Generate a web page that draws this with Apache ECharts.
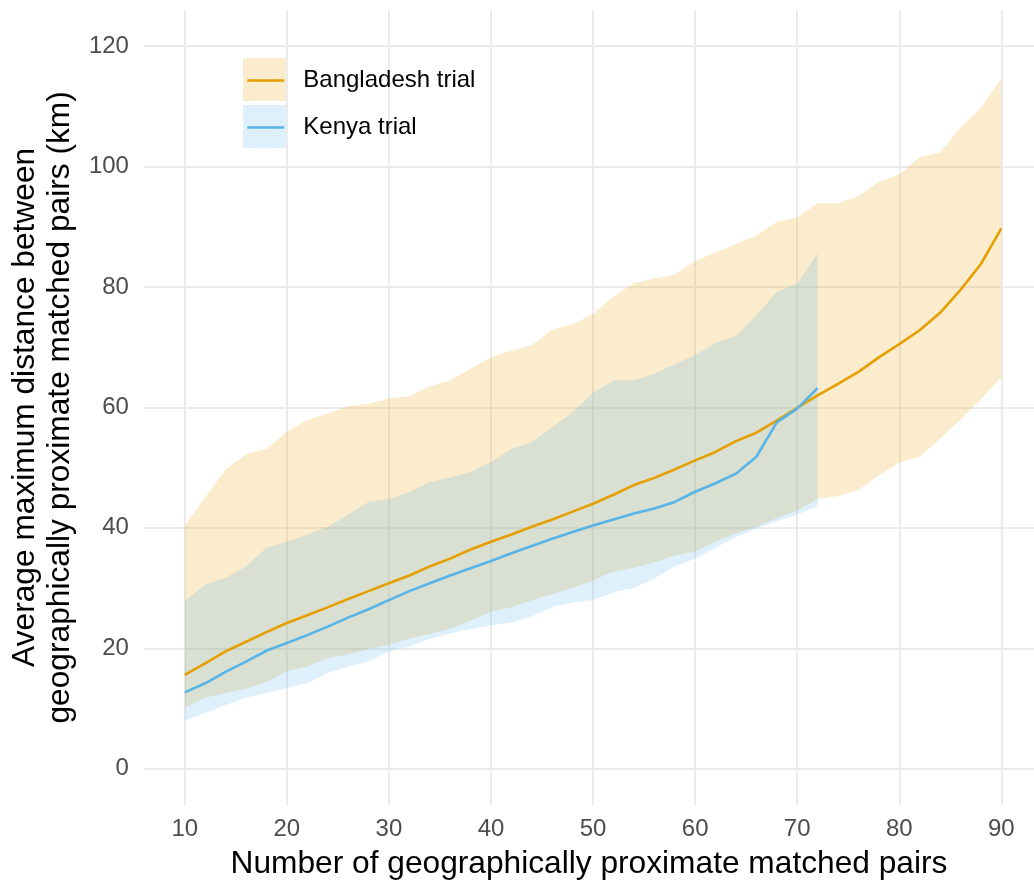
<!DOCTYPE html>
<html>
<head>
<meta charset="utf-8">
<script src="https://cdn.jsdelivr.net/npm/echarts@6/dist/echarts.min.js"></script>
<style>
  html, body { margin: 0; padding: 0; background: #fff; }
  #chart { width: 1034px; height: 885px; }
</style>
</head>
<body>
<div id="chart"></div>
<script>
// Number of matched pairs (x) for each trial
const bdPairs = [10,12,14,16,18,20,22,24,26,28,30,32,34,36,38,40,42,44,46,48,50,52,54,56,58,60,62,64,66,68,70,72,74,76,78,80,82,84,86,88,90];
const kePairs = [10,12,14,16,18,20,22,24,26,28,30,32,34,36,38,40,42,44,46,48,50,52,54,56,58,60,62,64,66,68,70,72];

// Bangladesh trial: mean and interval bounds (km)
const bdMean = [15.6,17.5,19.5,21.1,22.7,24.2,25.5,26.8,28.2,29.5,30.8,32.1,33.6,34.9,36.4,37.7,38.9,40.2,41.4,42.7,44.0,45.5,47.1,48.3,49.7,51.2,52.6,54.4,55.8,57.8,59.9,62.0,63.9,65.9,68.3,70.5,72.8,75.7,79.5,83.8,89.7];
const bdLow  = [10.2,11.8,12.6,13.3,14.4,16.2,17.0,18.4,19.0,19.9,20.6,21.6,22.4,23.3,24.6,26.1,26.8,28.0,29.0,30.0,31.3,32.7,33.4,34.3,35.4,36.1,37.7,39.1,40.2,41.6,42.9,44.8,45.3,46.3,48.7,50.8,51.8,54.8,58.0,61.4,65.0];
const bdHigh = [40.4,45.1,49.7,52.2,53.1,55.9,57.9,59.0,60.2,60.6,61.5,61.8,63.5,64.5,66.4,68.3,69.4,70.3,72.9,73.8,75.5,78.4,80.6,81.4,82.0,84.3,85.7,87.1,88.5,90.8,91.5,93.9,93.9,95.1,97.4,98.7,101.5,102.3,106.4,109.7,114.7];

// Kenya trial: mean and interval bounds (km)
const keMean = [12.7,14.2,16.1,17.8,19.6,20.9,22.2,23.6,25.1,26.5,28.0,29.5,30.8,32.1,33.3,34.5,35.8,37.0,38.2,39.3,40.4,41.4,42.4,43.2,44.3,46.0,47.4,49.0,51.8,57.5,59.8,63.2];
const keLow  = [7.9,9.3,10.6,11.8,12.6,13.4,14.2,15.9,17.0,17.8,19.5,20.3,21.6,22.5,23.2,23.8,24.3,25.3,26.9,27.6,28.0,29.3,30.0,31.6,33.6,34.9,36.7,38.5,39.9,41.1,42.2,43.6];
const keHigh = [27.9,30.6,31.7,33.6,36.7,37.7,38.9,40.2,42.2,44.3,44.8,45.9,47.6,48.3,49.3,50.9,53.1,54.2,56.7,59.2,62.4,64.5,64.5,65.6,67.1,68.7,70.7,71.9,75.3,79.2,80.5,85.6];

// Axis tick labels
const xTicks = [10,20,30,40,50,60,70,80,90];
const yTicks = [0,20,40,60,80,100,120];

const ORANGE = '#E69F00';
const BLUE = '#56B4E9';
const ORANGE_FILL = 'rgba(230,159,0,0.2)';
const BLUE_FILL = 'rgba(86,180,233,0.2)';
const FONT = 'Liberation Sans, Arial, Helvetica, sans-serif';
const GRID = '#EBEBEB';
const LINE_W = 2.6;

const pairs = (xs, ys) => xs.map((x, i) => [x, ys[i]]);

// Ribbon between lower and upper bounds, drawn as one polygon in axis coordinates
function ribbon(name, xs, lo, hi, fill) {
  return {
    name: name, type: 'custom', silent: true, z: 1,
    data: xs.map((x, i) => [x, lo[i], hi[i]]),
    encode: { x: 0, y: [1, 2] },
    itemStyle: { color: fill },
    renderItem: function (params, api) {
      if (params.dataIndex !== 0) return null;
      const upper = xs.map((x, i) => api.coord([x, hi[i]]));
      const lower = xs.map((x, i) => api.coord([x, lo[i]])).reverse();
      return {
        type: 'polygon',
        shape: { points: upper.concat(lower) },
        style: { fill: fill, stroke: null }
      };
    }
  };
}

function meanLine(name, xs, ys, color, z) {
  return {
    name: name, type: 'line', data: pairs(xs, ys), symbol: 'none', silent: true,
    lineStyle: { color: color, width: LINE_W }, itemStyle: { color: color }, z: z
  };
}

// One legend block per key, so each key sits in its own 43px square
function bandKey(name, fill, top) {
  return {
    orient: 'vertical', left: 243, top: top, padding: 0, itemWidth: 43, itemHeight: 43,
    icon: 'rect', selectedMode: false, formatter: () => '',
    data: [{ name: name, itemStyle: { color: fill, borderWidth: 0 } }]
  };
}
function lineKey(name, color, top) {
  return {
    orient: 'vertical', left: 246, top: top, padding: 0, itemWidth: 37, itemHeight: 43,
    selectedMode: false,
    lineStyle: { width: LINE_W },
    textStyle: { fontSize: 24, color: '#000', fontFamily: FONT, padding: [0, 0, 0, 14], lineHeight: 43 },
    data: [{ name: name, itemStyle: { opacity: 0 }, lineStyle: { color: color, width: LINE_W } }]
  };
}

const chart = echarts.init(document.getElementById('chart'), null, { renderer: 'canvas' });

chart.setOption({
  animation: false,
  backgroundColor: '#ffffff',
  textStyle: { fontFamily: FONT },
  grid: { left: 142, right: 0, top: 9.75, bottom: 78, containLabel: false },
  xAxis: {
    type: 'value', min: 6, max: 93.2,
    name: 'Number of geographically proximate matched pairs',
    nameLocation: 'middle', nameGap: 43,
    nameTextStyle: { fontSize: 31.7, color: '#000', fontFamily: FONT },
    axisLine: { show: false },
    axisTick: { show: false, customValues: xTicks },
    axisLabel: { customValues: xTicks, color: '#4D4D4D', fontSize: 24, margin: 12, fontFamily: FONT },
    splitLine: { show: true, lineStyle: { color: GRID, width: 2 } }
  },
  yAxis: {
    type: 'value', min: -6, max: 126,
    name: 'Average maximum distance between\ngeographically proximate matched pairs (km)',
    nameLocation: 'middle', nameGap: 60,
    nameTextStyle: { fontSize: 31.7, color: '#000', lineHeight: 35, fontFamily: FONT },
    axisLine: { show: false },
    axisTick: { show: false, customValues: yTicks },
    axisLabel: { customValues: yTicks, color: '#4D4D4D', fontSize: 24, margin: 15, fontFamily: FONT },
    splitLine: { show: true, lineStyle: { color: GRID, width: 2 } }
  },
  legend: [
    bandKey('Bangladesh band', ORANGE_FILL, 58),
    bandKey('Kenya band', BLUE_FILL, 105),
    lineKey('Bangladesh trial', ORANGE, 59),
    lineKey('Kenya trial', BLUE, 106)
  ],
  series: [
    ribbon('Bangladesh band', bdPairs, bdLow, bdHigh, ORANGE_FILL),
    ribbon('Kenya band', kePairs, keLow, keHigh, BLUE_FILL),
    meanLine('Bangladesh trial', bdPairs, bdMean, ORANGE, 3),
    meanLine('Kenya trial', kePairs, keMean, BLUE, 4)
  ]
});
</script>
</body>
</html>
